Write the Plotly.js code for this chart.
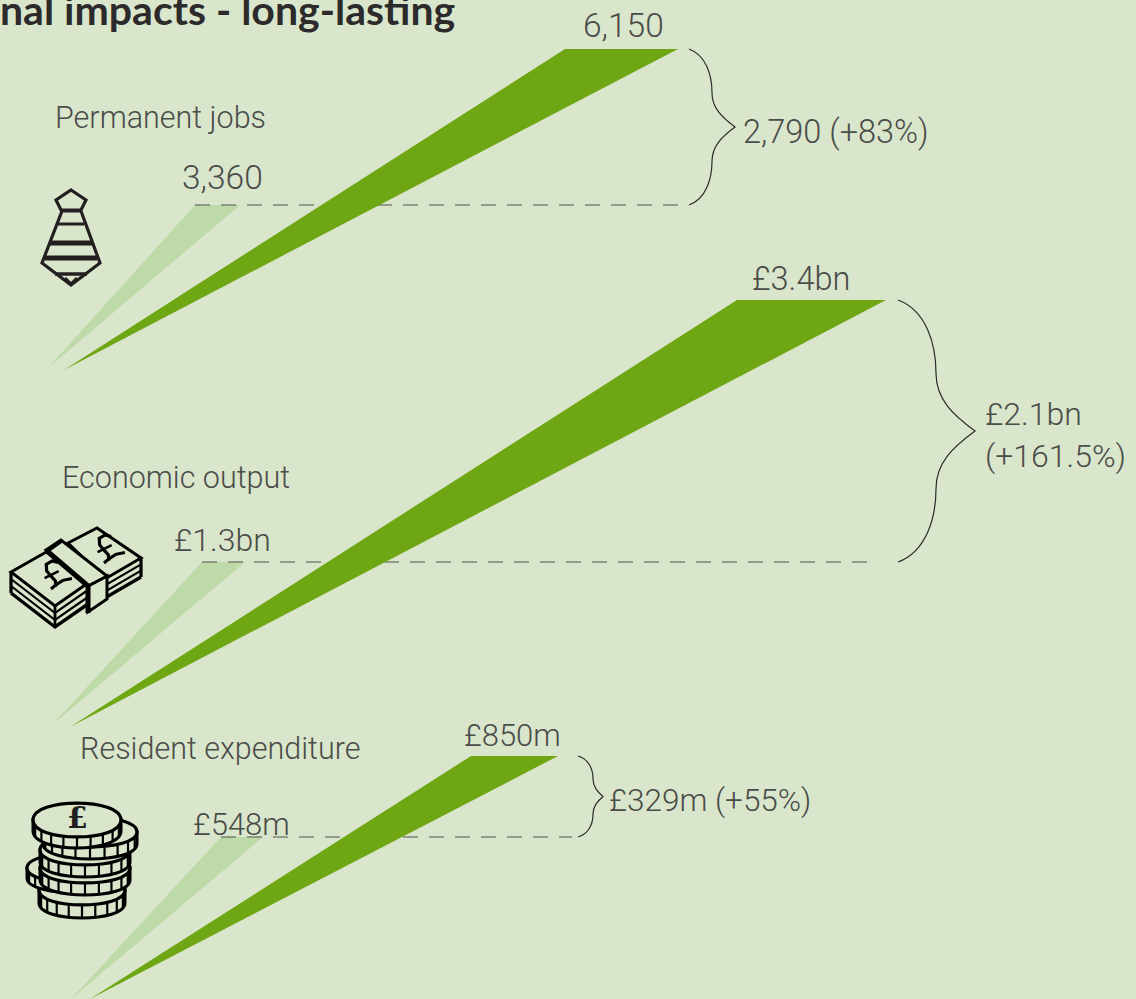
<!DOCTYPE html>
<html>
<head>
<meta charset="utf-8">
<script src="https://cdn.plot.ly/plotly-3.0.1.min.js"></script>
<style>html,body{margin:0;padding:0;background:#d9e6cb;overflow:hidden}</style>
</head>
<body>
<div id="chart" style="width:1136px;height:999px"></div>
<script>
// Impact figures: current level, level with the scheme, and the gain as published
const groups = ["Permanent jobs", "Economic output", "Resident expenditure"];
const jobsValues = [3360, 6150];
const outputValues = [1.3, 3.4];      // £bn
const spendValues = [548, 850];       // £m
const valueLabels = [["3,360", "6,150"], ["£1.3bn", "£3.4bn"], ["£548m", "£850m"]];
const gainLabels = ["2,790 (+83%)", "£2.1bn<br>(+161.5%)", "£329m (+55%)"];
// Where each spike narrows to its point, in the units of its own panel
const jobsTips = [445, 410];
const outputTips = [-0.006, -0.022];
const spendTips = [-56, -56];

const W = 1136, H = 999;
const BG = "#d9e6cb", DARK = "#6fa614", LIGHT = "#bfdaa9", INK = "#231f20", TEXT = "#4a4c49";
const FONT = "Roboto, Liberation Sans, sans-serif";

// One y axis per panel: two pixel anchors fix that panel's linear scale
function axisRange(v0, p0, v1, p1) {
  const k = (p1 - p0) / (v1 - v0);
  return [v0 + (H - p0) / k, v0 - p0 / k];
}
const ranges = [
  axisRange(jobsValues[0], 205, jobsValues[1], 49),
  axisRange(outputValues[0], 562, outputValues[1], 300),
  axisRange(spendValues[0], 837, spendValues[1], 756)
];
const values = [jobsValues, outputValues, spendValues];
const tips = [jobsTips, outputTips, spendTips];
const axes = ["y", "y2", "y3"];

// Horizontal placement of each panel's marks
const place = [
  {tip: [48, 64],  left: [195, 565], right: [240, 678], dashEnd: 682, brace: [689, 712, 735], label: 741},
  {tip: [52, 70],  left: [202, 737], right: [245, 886], dashEnd: 877, brace: [898, 936, 975], label: 983},
  {tip: [71, 90],  left: [221, 471], right: [263, 558], dashEnd: 572, brace: [578, 593, 603], label: 607}
];

const traces = [];
const shapes = [];
const annotations = [];

function spike(g, s, color) {
  const p = place[g], v = values[g][s], t = tips[g][s];
  traces.push({
    x: [p.tip[s], p.left[s], p.right[s], p.tip[s]], y: [t, v, v, t], yaxis: axes[g],
    mode: "lines", fill: "toself", fillcolor: color, line: {width: 0}, hoverinfo: "skip", showlegend: false
  });
}

function braceShape(g) {
  const [a, b, c] = place[g].brace, ax = axes[g];
  const lo = values[g][0], hi = values[g][1], mid = (lo + hi) / 2, r = hi - lo;
  const path = [
    "M", a, hi,
    "C", a + (b - a) * 0.75, hi - r * 0.04, b, hi - r * 0.17, b, hi - r * 0.28,
    "C", b, hi - r * 0.38, b + (c - b) * 0.45, hi - r * 0.44, c, mid,
    "C", b + (c - b) * 0.45, lo + r * 0.44, b, lo + r * 0.38, b, lo + r * 0.28,
    "C", b, lo + r * 0.17, a + (b - a) * 0.75, lo + r * 0.04, a, lo
  ].join(" ");
  shapes.push({type: "path", xref: "x", yref: ax, path, line: {color: "#2b2b2b", width: 1.2}, fillcolor: "rgba(0,0,0,0)"});
}

function label(text, x, y, yref, size, opts) {
  annotations.push(Object.assign({
    text, x, y, xref: "x", yref, showarrow: false, xanchor: "left", yanchor: "middle", align: "left",
    font: {family: FONT, size, color: TEXT, weight: 300}
  }, opts || {}));
}

groups.forEach((name, g) => {
  spike(g, 0, LIGHT);
  // dashed guide from the lower value across to the brace
  traces.push({
    x: [place[g].left[0], place[g].dashEnd], y: [values[g][0], values[g][0]], yaxis: axes[g],
    mode: "lines", line: {color: "#4f534c", width: 1.2, dash: "15px,11px"}, hoverinfo: "skip", showlegend: false
  });
  spike(g, 1, DARK);
  braceShape(g);
});

// Values sit above the tops of the spikes; each panel's figures have their own gaps and sizes
const labelX = [[222, 623], [222, 801], [241, 512]];
const labelGap = [[6, 2], [1, 0], [-8, 0]];
const labelSize = [[33.5, 33.5], [32, 32.5], [31, 31]];
const gainSize = [32.5, 32, 31.5];
const gainShift = [-5, -4, -4];
groups.forEach((name, g) => {
  [0, 1].forEach(s => label(valueLabels[g][s], labelX[g][s], values[g][s], axes[g], labelSize[g][s], {xanchor: "center", yanchor: "bottom", yshift: labelGap[g][s]}));
  const mid = (values[g][0] + values[g][1]) / 2;
  label(gainLabels[g], place[g].label, mid, axes[g], gainSize[g], {yshift: gainShift[g]});
});

// Decorations on a plain pixel axis
const PX = "y4";
function px(path, line, fill, color) {
  shapes.push({type: "path", xref: "x", yref: PX, path, line: {color: color || "#000", width: line}, fillcolor: fill || "rgba(0,0,0,0)"});
}
function poly(pts, close) {
  return "M " + pts.map(p => p.join(" ")).join(" L ") + (close ? " Z" : "");
}

// Tie
px(poly([[71,190],[86,200],[81,210],[61,210],[56,200]], true), 3.2, null, INK);
px(poly([[62,211],[42,263],[71,285],[100,263],[81,211]], true), 3.2, null, INK);
px(poly([[58,224],[84,224]]), 3, null, INK);
px(poly([[50,243],[92,243]]), 5, null, INK);
px(poly([[45,258],[97,258]]), 5, null, INK);
px(poly([[55,274],[87,274]]), 3.5, null, INK);
px(poly([[65,278],[71,284],[77,278]]), 3, null, INK);

// Banknotes
function notes(top, depth) {
  const [l, , r, b] = top;
  for (let i = 3; i >= 1; i--) {
    px(poly([[l[0], l[1] + depth * i / 3], [b[0], b[1] + depth * i / 3], [r[0], r[1] + depth * i / 3]]), i === 3 ? 3.4 : 2.2);
  }
  px(poly([[l[0], l[1]], [l[0], l[1] + depth]]), 3.2);
  px(poly([[r[0], r[1]], [r[0], r[1] + depth]]), 3.2);
  px(poly([[b[0], b[1]], [b[0], b[1] + depth]]), 2.8);
  px(poly(top, true), 3, BG);
}
// Pound sign laid flat on a note: skeleton strokes carried through the note's skew
function flatPound(ox, oy) {
  const U = [22, -11], V = [-14, -20];
  const P = ([u, v]) => [ox + u * U[0] + v * V[0], oy + u * U[1] + v * V[1]];
  const stem = [[0.22,0],[0.34,0.22],[0.3,0.5],[0.28,0.75],[0.42,1],[0.7,1.02],[0.86,0.85]].map(P);
  px(poly(stem), 3.2);
  px(poly([[0,0],[0.25,0.06],[0.6,0.1],[0.95,0]].map(P)), 3);
  px(poly([[0.04,0.52],[0.68,0.52]].map(P)), 2.6);
}
notes([[68,543],[97,528],[141,558],[105,579]], 19);
flatPound(104, 563);
notes([[11,572],[48,551],[88,583],[55,606]], 21);
flatPound(51, 589);
// Paper band around the bundle, its near edge heavier than the rest
px(poly([[88,586],[107,576],[107,599],[88,612]], true), 3, BG);
px(poly([[46,550],[61,540],[107,576],[88,586]], true), 3, BG);
px(poly([[47,551],[88,586],[88,613]]), 5);
px(poly([[47,551],[61,541]]), 4);

// Coins
function coin(cx, cy, rx, ry, h, strokes) {
  px(`M ${cx-rx} ${cy} L ${cx-rx} ${cy+h} C ${cx-rx} ${cy+h+ry*1.33}, ${cx+rx} ${cy+h+ry*1.33}, ${cx+rx} ${cy+h} L ${cx+rx} ${cy} Z`, 3, BG);
  px(`M ${cx-rx} ${cy} C ${cx-rx} ${cy-ry*1.33}, ${cx+rx} ${cy-ry*1.33}, ${cx+rx} ${cy} C ${cx+rx} ${cy+ry*1.33}, ${cx-rx} ${cy+ry*1.33}, ${cx-rx} ${cy} Z`, 3.2, BG);
  for (let i = 1; i < strokes; i++) {
    const a = Math.PI * i / strokes, x = cx - rx * Math.cos(a), y = cy + ry * Math.sin(a);
    px(poly([[x, y + 1], [x, y + h + 1]]), 2.2);
  }
}
coin(82, 890, 43, 15, 13, 10);
coin(78, 868, 51, 15, 10, 11);
coin(85, 868, 45, 15, 12, 10);
coin(85, 850, 45, 15, 12, 10);
coin(90, 832, 47, 15, 12, 10);
coin(77, 820, 44, 17, 11, 10);

// Pixel-axis carrier for free-standing labels
const free = [
  {text: groups[0], x: 55, y: 120},
  {text: groups[1], x: 62, y: 480},
  {text: groups[2], x: 80, y: 751}
];
traces.push({
  x: free.map(f => f.x), y: free.map(f => f.y), text: free.map(f => f.text), yaxis: PX,
  mode: "text", textposition: "middle right", cliponaxis: false,
  textfont: {family: FONT, size: 30.5, color: TEXT, weight: 300},
  hoverinfo: "skip", showlegend: false
});
annotations.push({
  text: "£", x: 77, y: 817, xref: "x", yref: PX, showarrow: false,
  font: {family: "DejaVu Serif, serif", size: 30, color: INK, weight: 700}
});
annotations.push({
  text: "nal impacts - long-lasting", x: 457, y: 25, xref: "x", yref: PX, showarrow: false,
  xanchor: "right", yanchor: "bottom", yshift: -11,
  font: {family: "Lato, sans-serif", size: 41, color: "#2c2a2b", weight: 700}
});

const hidden = {visible: false, fixedrange: true};
const layout = {
  width: W, height: H, margin: {l: 0, r: 0, t: 0, b: 0},
  paper_bgcolor: BG, plot_bgcolor: BG, showlegend: false,
  xaxis: Object.assign({range: [0, W]}, hidden),
  yaxis: Object.assign({range: ranges[0]}, hidden),
  yaxis2: Object.assign({range: ranges[1], overlaying: "y"}, hidden),
  yaxis3: Object.assign({range: ranges[2], overlaying: "y"}, hidden),
  yaxis4: Object.assign({range: [H, 0], overlaying: "y"}, hidden),
  shapes, annotations
};
Plotly.newPlot("chart", traces, layout, {displayModeBar: false, staticPlot: true});
</script>
</body>
</html>
